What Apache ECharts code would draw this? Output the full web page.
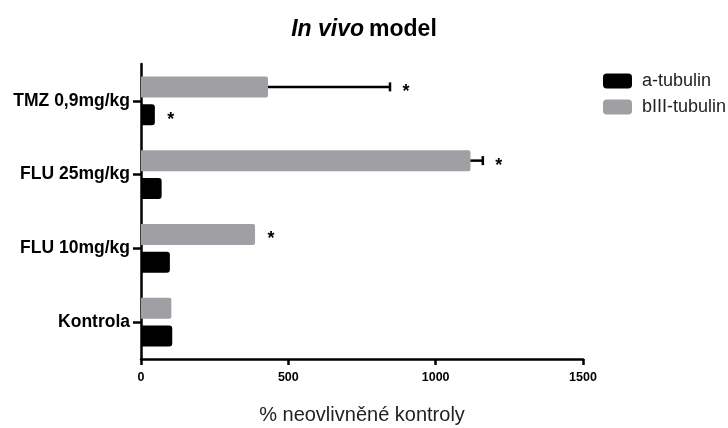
<!DOCTYPE html>
<html>
<head>
<meta charset="utf-8">
<script src="https://cdn.jsdelivr.net/npm/echarts@6/dist/echarts.min.js"></script>
<style>
  html, body { margin: 0; padding: 0; background: #fff; }
  #chart { width: 728px; height: 428px; }
</style>
</head>
<body>
<div id="chart"></div>
<script>
// skupiny (zdola nahoru)
const categories = ['Kontrola', 'FLU 10mg/kg', 'FLU 25mg/kg', 'TMZ 0,9mg/kg']
// hodnoty v % neovlivněné kontroly
const aTubulin = [106, 98, 70, 47]
const bTubulin = [103, 387, 1118, 431]
// chybové úsečky (SD)
const aErr = [0, 0, 0, 0]
const bErr = [0, 0, 42, 414]
// hvězdička = signifikance
const aSig = [0, 0, 0, 1]
const bSig = [0, 1, 1, 1]
const xTicks = [0, 500, 1000, 1500]

const font = 'Liberation Sans, Arial, Helvetica, sans-serif'
const gray = '#a0a0a4'
const barW = 21
const shift = 14

function errData(vals, errs, sig) {
  return vals.map((v, i) => [v, i, errs[i], sig[i]])
}

function errRender(offset) {
  return function (params, api) {
    const mean = api.value(0)
    const cat = api.value(1)
    const err = api.value(2)
    const sig = api.value(3)
    const p0 = api.coord([mean, cat])
    const p1 = api.coord([mean + err, cat])
    const y = p0[1] + offset
    const children = []
    if (err > 0) {
      children.push({
        type: 'line',
        shape: { x1: p0[0], y1: y, x2: p1[0], y2: y },
        style: { stroke: '#000', lineWidth: 2.5 },
      })
      children.push({
        type: 'line',
        shape: { x1: p1[0], y1: y - 4.5, x2: p1[0], y2: y + 4.5 },
        style: { stroke: '#000', lineWidth: 2.5 },
      })
    }
    if (sig) {
      children.push({
        type: 'text',
        style: {
          text: '*',
          x: p1[0] + 16,
          y: y + 5,
          fill: '#000',
          font: 'bold 18px ' + font,
          align: 'center',
          verticalAlign: 'middle',
        },
      })
    }
    return { type: 'group', children: children }
  }
}

const myChart = echarts.init(document.getElementById('chart'))

const option = {
  animation: false,
  title: {
    text: '{i|In vivo} {b|model}',
    left: 'center',
    top: 13,
    textStyle: {
      rich: {
        i: { fontFamily: font, fontSize: 23, fontWeight: 'bold', fontStyle: 'italic', color: '#000' },
        b: { fontFamily: font, fontSize: 23, fontWeight: 'bold', color: '#000' },
      },
    },
  },
  legend: {
    data: ['a-tubulin', 'bIII-tubulin'],
    orient: 'vertical',
    left: 598,
    top: 67,
    itemWidth: 29,
    itemHeight: 15,
    itemGap: 8,
    textStyle: { fontFamily: font, fontSize: 18, color: '#222', padding: [0, 0, 0, 5] },
  },
  grid: { left: 141, right: 145, top: 64, bottom: 69, outerBoundsMode: 'none' },
  xAxis: {
    type: 'value',
    min: xTicks[0],
    max: xTicks[xTicks.length - 1],
    interval: 500,
    name: '% neovlivněné kontroly',
    nameLocation: 'middle',
    nameGap: 46,
    nameTextStyle: { fontFamily: font, fontSize: 20, color: '#222' },
    axisLine: { show: true, lineStyle: { color: '#000', width: 2.5 } },
    axisTick: { show: true, length: 6, lineStyle: { color: '#000', width: 2.5 } },
    axisLabel: {
      fontFamily: font, fontSize: 12.5, fontWeight: 'bold', color: '#000', margin: 12,
      formatter: (v) => String(v),
    },
    splitLine: { show: false },
  },
  yAxis: {
    type: 'category',
    data: categories,
    axisLine: { show: true, lineStyle: { color: '#000', width: 2.5 } },
    axisTick: { show: true, alignWithLabel: true, length: 8, lineStyle: { color: '#000', width: 2.5 } },
    axisLabel: { fontFamily: font, fontSize: 17.5, fontWeight: 'bold', color: '#000', margin: 11 },
  },
  series: [
    {
      name: 'bIII-tubulin',
      type: 'bar',
      data: bTubulin,
      barWidth: barW,
      barGap: '33%',
      itemStyle: { color: gray, borderRadius: [0, 2, 2, 0] },
    },
    {
      name: 'a-tubulin',
      type: 'bar',
      data: aTubulin,
      barWidth: barW,
      itemStyle: { color: '#000', borderRadius: [0, 3, 3, 0] },
    },
    {
      type: 'custom',
      data: errData(aTubulin, aErr, aSig),
      encode: { x: 0, y: 1 },
      renderItem: errRender(shift),
      z: 5,
    },
    {
      type: 'custom',
      data: errData(bTubulin, bErr, bSig),
      encode: { x: 0, y: 1 },
      renderItem: errRender(-shift),
      z: 5,
    },
  ],
}

myChart.setOption(option)
</script>
</body>
</html>
